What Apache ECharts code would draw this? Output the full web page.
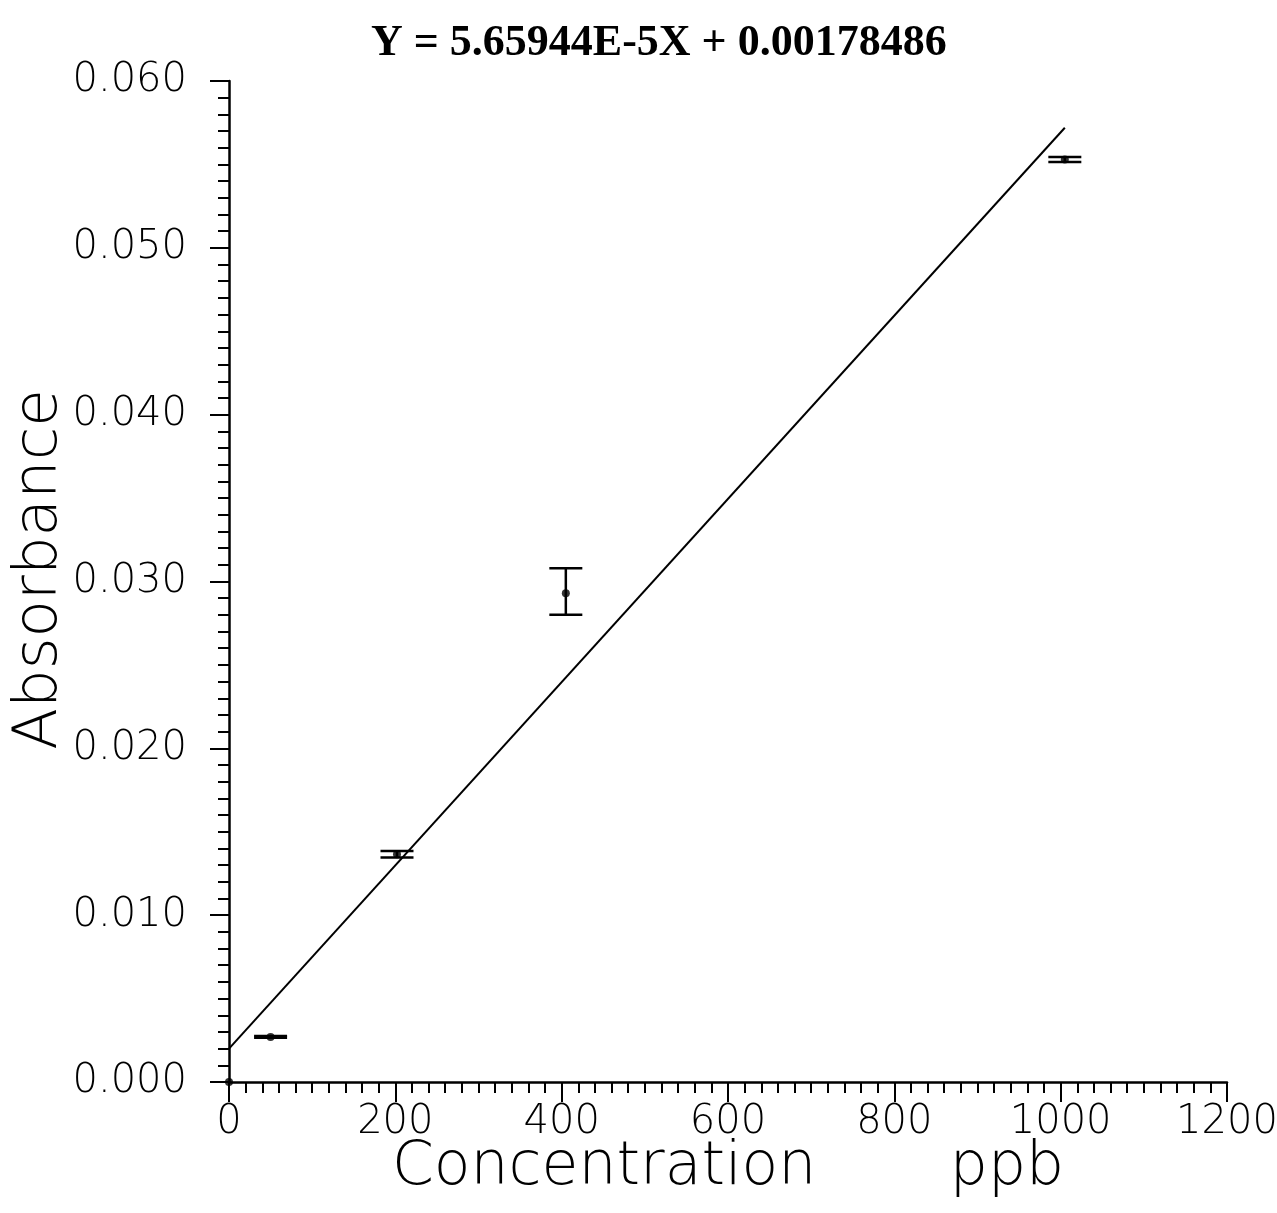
<!DOCTYPE html>
<html>
<head>
<meta charset="utf-8">
<script src="https://cdn.jsdelivr.net/npm/echarts@6/dist/echarts.min.js"></script>
<style>
html,body{margin:0;padding:0;background:#fff;}
#chart{width:1277px;height:1213px;}
</style>
</head>
<body>
<div id="chart"></div>
<script>
// ---- data ----
const titleText = 'Y = 5.65944E-5X + 0.00178486';
const xName = 'Concentration       ppb';
const yName = 'Absorbance';
const concentration = [0, 50, 202, 405, 1005];
const absorbance   = [0.0000, 0.0027, 0.01365, 0.0293, 0.0553];
const errLow       = [0.0000, 0.00265, 0.01345, 0.0280, 0.05515];
const errHigh      = [0.0000, 0.00275, 0.01385, 0.0308, 0.05545];
const fitX = [0, 1005];
const fitY = [0.0020, 0.0572];
const xMin = 0, xMax = 1200, xStep = 200;
const yMin = 0, yMax = 0.06, yStep = 0.01;

const pointData = concentration.map((x, i) => [x, absorbance[i]]);
const errData = concentration.map((x, i) => [x, errLow[i], errHigh[i]]);
const fitData = fitX.map((x, i) => [x, fitY[i]]);

const labelFont = {
  fontFamily: 'DejaVu Sans',
  fontWeight: 200,
  fontSize: 40,
  color: '#000'
};

const chart = echarts.init(document.getElementById('chart'), null, {renderer: 'canvas'});
chart.setOption({
  backgroundColor: '#fff',
  animation: false,
  title: {
    text: titleText,
    left: 366,
    top: 17,
    textStyle: {
      fontFamily: 'Liberation Serif',
      fontWeight: 'bold',
      fontSize: 44,
      color: '#000'
    }
  },
  grid: {left: 229, right: 50, top: 81, bottom: 131, containLabel: false, outerBoundsMode: 'none'},
  xAxis: {
    type: 'value',
    min: xMin, max: xMax, interval: xStep,
    name: xName,
    nameLocation: 'middle',
    nameGap: 56,
    nameMoveOverlap: false,
    nameTextStyle: {fontFamily: 'DejaVu Sans', fontWeight: 200, fontSize: 60, color: '#000'},
    axisLine: {show: true, onZero: false, lineStyle: {color: '#000', width: 2.5}},
    axisTick: {show: true, inside: false, length: 20, lineStyle: {color: '#000', width: 2}},
    minorTick: {show: true, splitNumber: 10, length: 11, lineStyle: {color: '#000', width: 2}},
    splitLine: {show: false},
    axisLabel: Object.assign({margin: 21, formatter: v => String(v)}, labelFont)
  },
  yAxis: {
    type: 'value',
    min: yMin, max: yMax, interval: yStep,
    name: yName,
    nameLocation: 'middle',
    nameGap: 158,
    nameMoveOverlap: false,
    nameRotate: 90,
    nameTextStyle: {fontFamily: 'DejaVu Sans', fontWeight: 200, fontSize: 61, color: '#000', padding: [0, 0, 0, 24]},
    axisLine: {show: true, onZero: false, lineStyle: {color: '#000', width: 2.5}},
    axisTick: {show: true, inside: false, length: 19, lineStyle: {color: '#000', width: 2}},
    minorTick: {show: true, splitNumber: 10, length: 11, lineStyle: {color: '#000', width: 2}},
    splitLine: {show: false},
    axisLabel: Object.assign({margin: 42, formatter: v => v.toFixed(3)}, labelFont)
  },
  series: [
    {
      type: 'line',
      data: fitData,
      showSymbol: false,
      symbol: 'none',
      lineStyle: {color: '#000', width: 2},
      z: 3
    },
    {
      type: 'custom',
      data: errData,
      z: 4,
      renderItem: function (params, api) {
        const x = api.value(0), lo = api.value(1), hi = api.value(2);
        if (hi === lo && lo === 0) return null;
        const pLo = api.coord([x, lo]);
        const pHi = api.coord([x, hi]);
        const hw = 16.5;
        const style = {stroke: '#000', lineWidth: 2.5};
        return {
          type: 'group',
          children: [
            {type: 'line', shape: {x1: pLo[0], y1: pLo[1], x2: pHi[0], y2: pHi[1]}, style: style},
            {type: 'line', shape: {x1: pLo[0] - hw, y1: pLo[1], x2: pLo[0] + hw, y2: pLo[1]}, style: style},
            {type: 'line', shape: {x1: pHi[0] - hw, y1: pHi[1], x2: pHi[0] + hw, y2: pHi[1]}, style: style}
          ]
        };
      }
    },
    {
      type: 'scatter',
      data: pointData,
      symbol: 'circle',
      symbolSize: 8,
      itemStyle: {color: '#000'},
      z: 5
    }
  ]
});
</script>
</body>
</html>
